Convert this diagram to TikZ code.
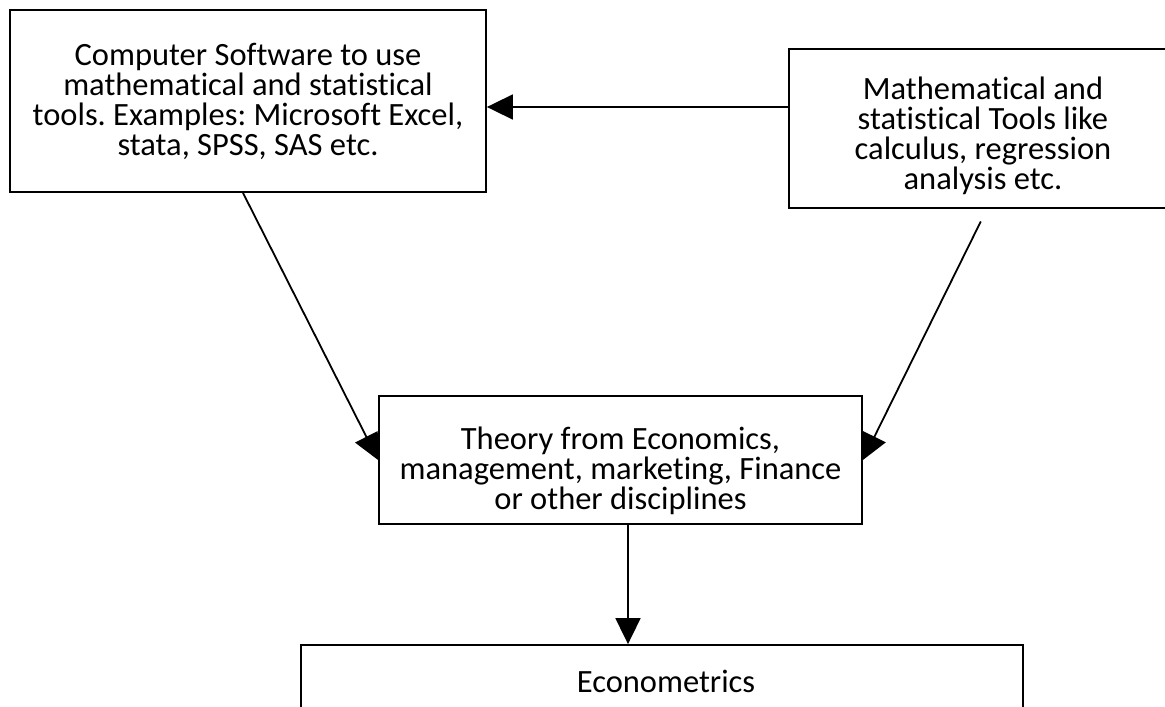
\documentclass[tikz,border=0pt]{standalone}
\usepackage{fontspec}
\setmainfont{Carlito}[Ligatures=NoCommon]
\usetikzlibrary{arrows.meta}
\frenchspacing
\begin{document}
\begin{tikzpicture}[x=1bp,y=-1bp,
  box/.style={draw, line width=1.8bp, fill=white, align=center, inner sep=0pt, font=\fontsize{32.5bp}{30bp}\selectfont},
  arr/.style={line width=1.8bp, -{Triangle[length=26bp,width=25bp]}}]
\useasboundingbox (0,0) rectangle (1165,707);
\clip (0,0) rectangle (1165,707);
\node[box, minimum width=476bp, minimum height=182bp] (soft) at (248,101) {Computer Software to use\\mathematical and statistical\\tools. Examples: Microsoft Excel,\\stata, SPSS, SAS etc.};
\node[box, minimum width=388bp, minimum height=159bp] (tools) at (983,128.5) {\rule{0pt}{37bp}Mathematical and\\statistical Tools like\\calculus, regression\\analysis etc.};
\node[box, minimum width=483bp, minimum height=128bp] (theory) at (620.5,460) {\rule{0pt}{45bp}Theory from Economics,\\management, marketing, Finance\\or other disciplines};
\node[box, minimum width=722bp, minimum height=72bp] (econ) at (662,681) {\hspace*{8bp}Econometrics};
\coordinate (h) at (0,107);
\coordinate (v) at (628,0);
\draw[arr] (h -| tools.west) -- (h -| soft.east);
\draw[arr] ([xshift=-5bp]soft.south) -- (theory.west);
\draw[arr, shorten <=14bp] ([xshift=4bp]tools.south) -- (theory.east);
\draw[arr] (v |- theory.south) -- (v |- econ.north);
\end{tikzpicture}
\end{document}
